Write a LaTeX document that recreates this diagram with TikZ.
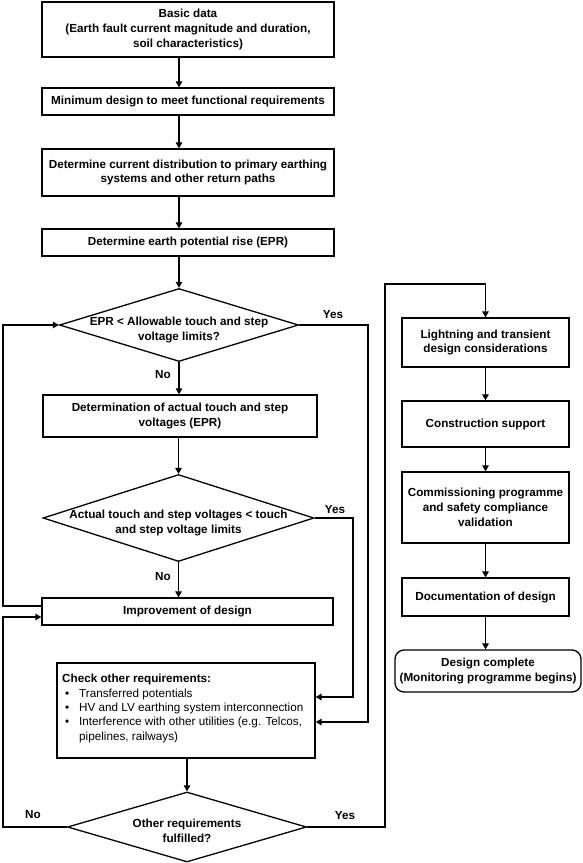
\documentclass[tikz,border=0pt]{standalone}
\usepackage{fontspec}
\setmainfont{Liberation Sans}
\usetikzlibrary{shapes.geometric,arrows.meta}
\tikzset{
  box/.style={draw, line width=1.3pt, inner sep=2pt, align=center, font=\fontsize{11.7}{14.8}\selectfont\bfseries},
  dia/.style={draw, diamond, line width=1.3pt, inner sep=0pt},
  dtext/.style={align=center, font=\fontsize{11.7}{14.8}\selectfont\bfseries},
  lbl/.style={font=\fontsize{11.7}{14}\selectfont\bfseries},
  conn/.style={line width=1.2pt},
  arr/.style={line width=1.2pt, -{Triangle[length=6pt,width=6.5pt]}},
}
\begin{document}
\begin{tikzpicture}[x=1pt,y=-1pt]
\useasboundingbox (0,0) rectangle (582,863);
\coordinate (col) at (179,0);
% left column
\node[box, minimum width=292pt, minimum height=55pt] (b1) at (188,29.5) {Basic data\\(Earth fault current magnitude and duration,\\soil characteristics)};
\node[box, minimum width=292pt, minimum height=27pt] (b2) at (188,101.5) {Minimum design to meet functional requirements};
\node[box, minimum width=292pt, minimum height=47pt] (b3) at (188,172.5) {Determine current distribution to primary earthing\\systems and other return paths};
\node[box, minimum width=292pt, minimum height=27pt] (b4) at (188,242.5) {Determine earth potential rise (EPR)};
\node[dia, minimum width=239pt, minimum height=73pt] (d1) at (179,325) {};
\node[dtext] (d1t) at ([yshift=-5pt]d1.center) {EPR < Allowable touch and step\\voltage limits?};
\node[box, minimum width=274pt, minimum height=42pt] (b5) at (180,416) {Determination of actual touch and step\\voltages (EPR)};
\node[dia, minimum width=271pt, minimum height=87pt] (d2) at (178.5,518) {};
\node[dtext] (d2t) at ([yshift=-5pt]d2.center) {Actual touch and step voltages < touch\\and step voltage limits};
\node[box, minimum width=291pt, minimum height=27pt] (imp) at (187.5,611.5) {Improvement of design};
\node[draw, line width=1.3pt, minimum width=258pt, minimum height=95pt] (chk) at (186,710.5) {};
\node[anchor=north west, inner sep=0pt, font=\fontsize{11.7}{14.3}\selectfont, align=left] (chkt) at (62,672.5) {%
\begin{tabular}{@{}p{17pt}@{}l@{}}
\multicolumn{2}{@{}l@{}}{\bfseries Check other requirements:}\\[0.3pt]
\hspace{3pt}\textbullet & Transferred potentials\\
\hspace{3pt}\textbullet & HV and LV earthing system interconnection\\
\hspace{3pt}\textbullet & Interference with other utilities (e.g. Telcos,\\
 & pipelines, railways)
\end{tabular}};
\node[dia, minimum width=239pt, minimum height=70pt] (d3) at (187,827) {};
\node[dtext] (d3t) at ([yshift=-3.5pt]d3.center) {Other requirements\\fulfilled?};
% right column
\node[box, minimum width=167pt, minimum height=49pt] (r1) at (485.5,342.5) {Lightning and transient\\design considerations};
\node[box, minimum width=167pt, minimum height=46pt] (r2) at (485.5,424) {Construction support};
\node[box, minimum width=167pt, minimum height=71pt] (r3) at (485.5,507.5) {Commissioning programme\\and safety compliance\\validation};
\node[box, minimum width=167pt, minimum height=38pt] (r4) at (485.5,597) {Documentation of design};
\node[box, rounded corners=9pt, minimum width=186pt, minimum height=42pt] (r5) at (488,671) {Design complete\\(Monitoring programme begins)};
% connectors main column
\draw[arr] (b1.south -| col) -- (b2.north -| col);
\draw[arr] (b2.south -| col) -- (b3.north -| col);
\draw[arr] (b3.south -| col) -- (b4.north -| col);
\draw[arr] (b4.south -| col) -- (d1.north);
\draw[arr] (d1.south) -- (b5.north -| d1.south);
\node[lbl] (no1) at (163,375) {No};
\draw[arr] (b5.south -| d2.north) -- (d2.north);
\draw[arr] (d2.south) -- (imp.north -| d2.south);
\node[lbl] (no2) at (163,577) {No};
\draw[arr] (chk.south -| d3.north) -- (d3.north);
% loops
\coordinate (lx1) at (3,606);
\coordinate (lx2) at (3,617);
\draw[arr] ([yshift=5.5pt]imp.west) -- (lx1) |- (d1.west);
\draw[arr] (d3.west) -| (lx2) -- ([yshift=-5.5pt]imp.west);
\node[lbl] (no3) at (33,815) {No};
% yes branches
\coordinate (y1) at (368,722);
\draw[arr] (d1.east) -| (y1) -- (chk.east |- y1);
\node[lbl] (yes1) at (333,315) {Yes};
\coordinate (y2) at (353,697);
\draw[arr] (d2.east) -| (y2) -- (chk.east |- y2);
\node[lbl] (yes2) at (335,510) {Yes};
\coordinate (y3) at (385,284);
\draw[arr] (d3.east) -| (y3) -| (r1.north);
\node[lbl] (yes3) at (345,816) {Yes};
% right column arrows
\draw[arr] (r1) -- (r2);
\draw[arr] (r2) -- (r3);
\draw[arr] (r3) -- (r4);
\draw[arr] (r4) -- (r5.north -| r4.south);
\end{tikzpicture}
\end{document}
